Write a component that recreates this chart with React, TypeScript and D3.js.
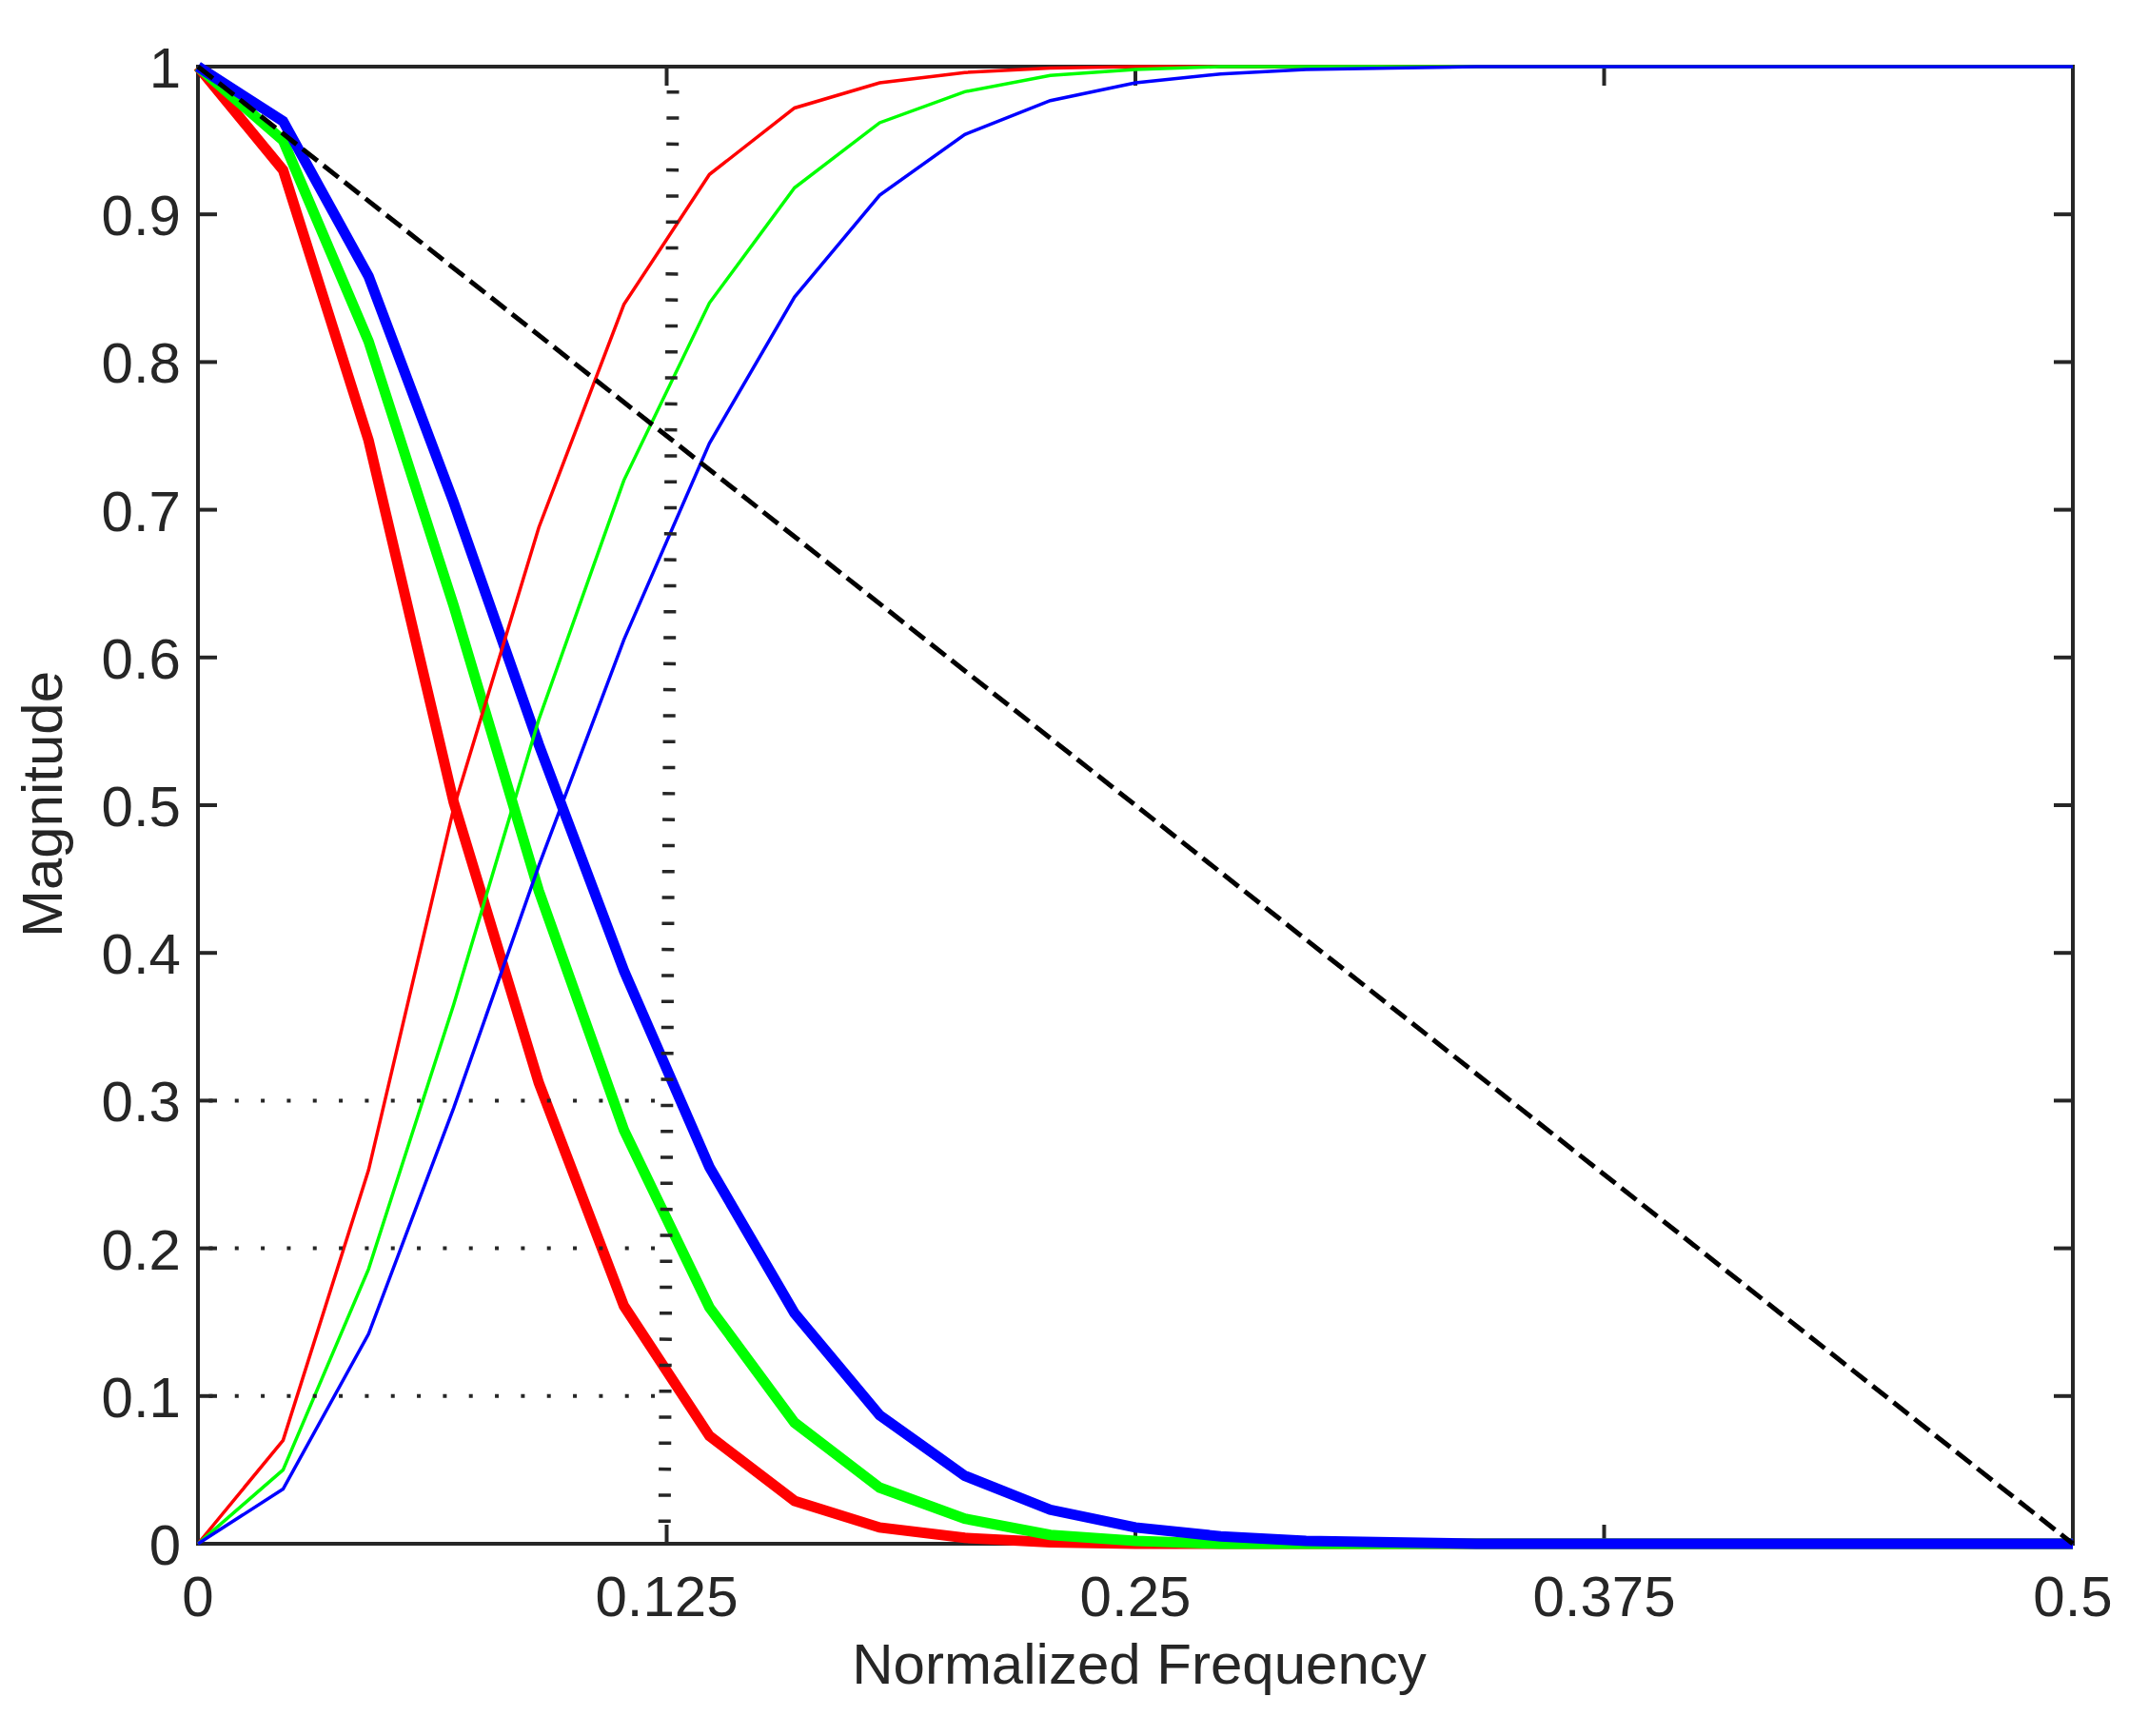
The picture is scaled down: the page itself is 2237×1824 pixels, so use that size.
import * as d3 from 'd3';

// normalized frequency samples (0 .. 0.5)
const freq = [
    0, 0.0227, 0.0455, 0.0682, 0.0909, 0.1136, 0.1364, 0.1591, 0.1818, 0.2045, 0.2273, 0.25,
    0.2727, 0.2955, 0.3182, 0.3409, 0.3636, 0.3864, 0.4091, 0.4318, 0.4545, 0.4773, 0.5,
];

// low-pass responses (thick)
const lowRed = [1, 0.93, 0.747, 0.502, 0.312, 0.161, 0.073, 0.029, 0.011, 0.004, 0.001, 0, 0, 0, 0, 0, 0, 0, 0, 0, 0, 0, 0];
const lowGreen = [1, 0.95, 0.814, 0.635, 0.442, 0.28, 0.16, 0.082, 0.038, 0.017, 0.006, 0.002, 0, 0, 0, 0, 0, 0, 0, 0, 0, 0, 0];
const lowBlue = [1, 0.963, 0.858, 0.705, 0.541, 0.388, 0.255, 0.156, 0.087, 0.046, 0.023, 0.011, 0.005, 0.002, 0.001, 0, 0, 0, 0, 0, 0, 0, 0];

// high-pass responses (thin)
const highRed = [0, 0.07, 0.253, 0.498, 0.688, 0.839, 0.927, 0.972, 0.989, 0.996, 0.999, 1, 1, 1, 1, 1, 1, 1, 1, 1, 1, 1, 1];
const highGreen = [0, 0.05, 0.186, 0.365, 0.558, 0.72, 0.84, 0.918, 0.962, 0.983, 0.994, 0.998, 1, 1, 1, 1, 1, 1, 1, 1, 1, 1, 1];
const highBlue = [0, 0.037, 0.142, 0.295, 0.459, 0.612, 0.745, 0.844, 0.913, 0.954, 0.977, 0.989, 0.995, 0.998, 0.999, 1, 1, 1, 1, 1, 1, 1, 1];

// reference lines
const rampFreq = [0, 0.5];
const rampMag = [1, 0];
const cutoffFreq = [0.1267, 0.1244];
const cutoffMag = [1, 0];
const levelMarks = [0.1, 0.2, 0.3];
const levelFreq = [0, 0.125];

const xTicks = [0, 0.125, 0.25, 0.375, 0.5];
const yTicks = [0, 0.1, 0.2, 0.3, 0.4, 0.5, 0.6, 0.7, 0.8, 0.9, 1];

const W = 2237, H = 1824;
const left = 208, right = 2178, top = 70, bottom = 1622;
const ink = '#262626';
const font = '"Liberation Sans", Arial, Helvetica, sans-serif';

export default function App() {
    const x = d3.scaleLinear().domain([0, 0.5]).range([left, right]);
    const y = d3.scaleLinear().domain([0, 1]).range([bottom, top]);

    const line = d3.line<[number, number]>()
        .x(d => x(d[0]))
        .y(d => y(d[1]));
    const series = (vals: number[]) => line(freq.map((f, i) => [f, vals[i]] as [number, number])) || '';
    const pairs = (xs: number[], ys: number[]) => line(xs.map((v, i) => [v, ys[i]] as [number, number])) || '';

    const thick = [
        { vals: lowRed, color: '#ff0000' },
        { vals: lowGreen, color: '#00ff00' },
        { vals: lowBlue, color: '#0000ff' },
    ];
    const thin = [
        { vals: highRed, color: '#ff0000' },
        { vals: highGreen, color: '#00ff00' },
        { vals: highBlue, color: '#0000ff' },
    ];

    const fmt = (v: number) => String(+v.toFixed(3));

    return (
        <div style={{ position: 'absolute', left: 0, top: 0 }}>
            <svg width={W} height={H} style={{ display: 'block', background: '#fff' }}>
                <rect x={0} y={0} width={W} height={H} fill="#fff" />

                {/* axes box */}
                <rect x={left} y={top} width={right - left} height={bottom - top}
                    fill="none" stroke={ink} strokeWidth={4} />
                {xTicks.map(t => (
                    <g key={'xt' + t}>
                        <line x1={x(t)} x2={x(t)} y1={bottom} y2={bottom - 20} stroke={ink} strokeWidth={4} />
                        <line x1={x(t)} x2={x(t)} y1={top} y2={top + 20} stroke={ink} strokeWidth={4} />
                        <text x={x(t)} y={1698} textAnchor="middle" fontFamily={font} fontSize={60} fill={ink}>{fmt(t)}</text>
                    </g>
                ))}
                {yTicks.map(t => (
                    <g key={'yt' + t}>
                        <line x1={left} x2={left + 20} y1={y(t)} y2={y(t)} stroke={ink} strokeWidth={4} />
                        <line x1={right} x2={right - 20} y1={y(t)} y2={y(t)} stroke={ink} strokeWidth={4} />
                        <text x={190} y={y(t) + 22} textAnchor="end" fontFamily={font} fontSize={60} fill={ink}>{fmt(t)}</text>
                    </g>
                ))}

                {/* low-pass (thick) */}
                {thick.map((s, i) => (
                    <path key={'lo' + i} d={series(s.vals)} fill="none" stroke={s.color}
                        strokeWidth={11} strokeLinejoin="miter" />
                ))}
                {/* high-pass (thin) */}
                {thin.map((s, i) => (
                    <path key={'hi' + i} d={series(s.vals)} fill="none" stroke={s.color}
                        strokeWidth={3.5} strokeLinejoin="miter" />
                ))}

                {/* linear ramp */}
                <path d={pairs(rampFreq, rampMag)} fill="none" stroke="#000" strokeWidth={5}
                    strokeDasharray="20 8" />

                {/* cutoff marker */}
                <path d={pairs(cutoffFreq, cutoffMag)} fill="none" stroke={ink} strokeWidth={13}
                    strokeDasharray="3.5 23.8" strokeDashoffset={-25} />
                {levelMarks.map(m => (
                    <path key={'lv' + m} d={pairs(levelFreq, [m, m])} fill="none" stroke={ink}
                        strokeWidth={4} strokeDasharray="4 23.33" strokeDashoffset={15.9} />
                ))}

                <text x={1197} y={1769} textAnchor="middle" fontFamily={font} fontSize={60} fill={ink}>
                    Normalized Frequency
                </text>
                <text transform="translate(65, 845) rotate(-90)" textAnchor="middle" fontFamily={font}
                    fontSize={60} fill={ink}>
                    Magnitude
                </text>
            </svg>
        </div>
    );
}
